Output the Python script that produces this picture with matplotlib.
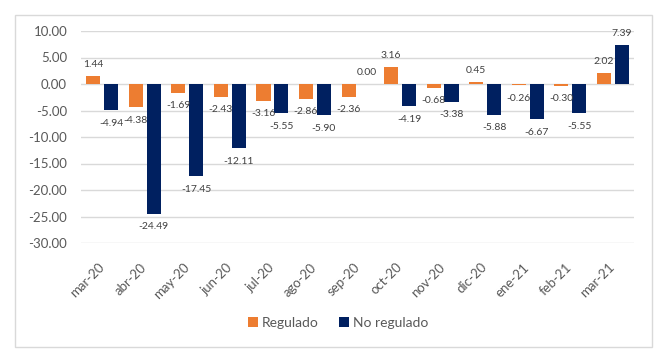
import numpy as np
import matplotlib.pyplot as plt
from matplotlib.patches import Rectangle

months = ['mar-20', 'abr-20', 'may-20', 'jun-20', 'jul-20', 'ago-20', 'sep-20',
          'oct-20', 'nov-20', 'dic-20', 'ene-21', 'feb-21', 'mar-21']
regulado = [1.44, -4.38, -1.69, -2.43, -3.16, -2.86, -2.36,
            3.16, -0.68, 0.45, -0.26, -0.30, 2.02]
no_regulado = [-4.94, -24.49, -17.45, -12.11, -5.55, -5.90, 0.00,
               -4.19, -3.38, -5.88, -6.67, -5.55, 7.39]

plt.rcParams['font.family'] = ['Lato', 'DejaVu Sans']
grey = '#595959'

fig = plt.figure(figsize=(6.66, 3.62), dpi=100)
# outer chart border
fig.patches.append(Rectangle((15 / 666, 1 - 347 / 362), 637 / 666, 332 / 362,
                             transform=fig.transFigure, fill=False,
                             edgecolor='#d9d9d9', linewidth=1))
ax = fig.add_axes([81 / 666, 1 - 243 / 362, 553 / 666, 212 / 362])

x = np.arange(len(months))
w = 0.33
b1 = ax.bar(x - 0.21, regulado, w, color='#ED7D31', label='Regulado', zorder=3)
b2 = ax.bar(x + 0.21, no_regulado, w, color='#002060', label='No regulado', zorder=3)

# data labels, outside end
for bars in (b1, b2):
    for r in bars:
        v = r.get_height()
        xc = r.get_x() + r.get_width() / 2
        if v >= 0:
            ax.annotate(f'{v:.2f}', (xc, v), xytext=(0, 5), textcoords='offset points',
                        ha='center', va='bottom', fontsize=7.5, color='#404040', zorder=4)
        else:
            ax.annotate(f'{v:.2f}', (xc, v), xytext=(0, -6), textcoords='offset points',
                        ha='center', va='top', fontsize=7.5, color='#404040', zorder=4)

ax.set_xlim(-0.5, len(months) - 0.5)
ax.set_ylim(-30, 10)
ax.set_yticks(np.arange(-30, 11, 5))
ax.set_yticklabels([f'{t:.2f}' for t in np.arange(-30, 11, 5)])
ax.set_xticks(x)
ax.set_xticklabels(months, rotation=45, ha='right', va='center', rotation_mode='anchor')
ax.tick_params(axis='y', length=0, pad=10, labelsize=9.5, labelcolor=grey)
ax.tick_params(axis='x', length=0, pad=16, labelsize=9.5, labelcolor=grey)
ax.grid(axis='y', color='#d9d9d9', linewidth=1, zorder=0)
for s in ax.spines.values():
    s.set_visible(False)

fig.legend(loc='center', bbox_to_anchor=(0.508, 1 - 323 / 362), ncol=2, frameon=False,
           fontsize=10, labelcolor=grey, handlelength=0.7, handleheight=0.7,
           handletextpad=0.3, columnspacing=1.5)

plt.savefig('out.png', dpi=100)
